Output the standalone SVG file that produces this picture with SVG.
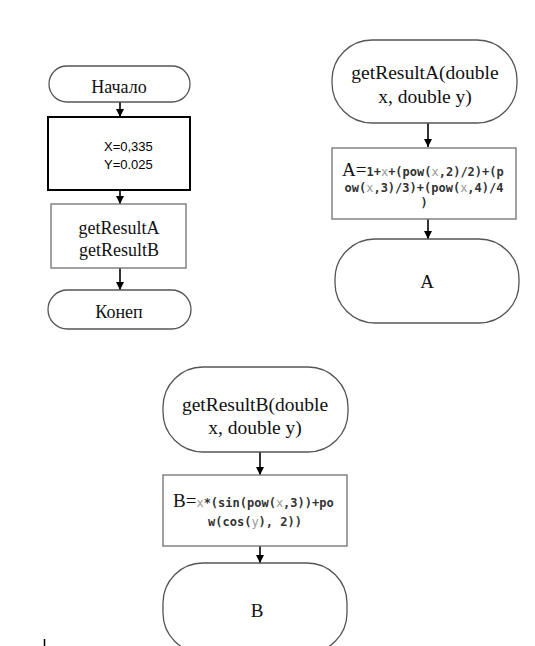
<svg xmlns="http://www.w3.org/2000/svg" width="535" height="646" viewBox="0 0 535 646">
<defs>
<style>
.term{fill:#fff;stroke:#555;stroke-width:1.3}
.box{fill:#fff;stroke:#7a7a7a;stroke-width:1.4}
.boxb{fill:#fff;stroke:#000;stroke-width:2}
.t{font-family:"Liberation Serif","Times New Roman",serif;fill:#111}
.s{font-family:"Liberation Sans",Arial,sans-serif;fill:#000;font-size:13px}
.m{font-family:"DejaVu Sans Mono","Liberation Mono",monospace;font-size:12px;fill:#333;font-weight:bold}
.v{fill:#999;font-weight:normal}
.c{fill:none;stroke:#000;stroke-width:1.6}
</style>
<marker id="ah" markerWidth="8" markerHeight="8" viewBox="0 0 8 8" refX="8" refY="4" orient="auto" markerUnits="userSpaceOnUse">
<path d="M0,0 L8,4 L0,8 z" fill="#000"/>
</marker>
</defs>
<rect width="535" height="646" fill="#fff"/>
<g id="connectors">
<line class="c" x1="120" y1="102" x2="120" y2="117" marker-end="url(#ah)"/>
<line class="c" x1="120" y1="190" x2="120" y2="204" marker-end="url(#ah)"/>
<line class="c" x1="120" y1="268" x2="120" y2="290" marker-end="url(#ah)"/>
<line class="c" x1="428" y1="123" x2="428" y2="147" marker-end="url(#ah)"/>
<line class="c" x1="428" y1="219" x2="428" y2="239" marker-end="url(#ah)"/>
<line class="c" x1="260" y1="452" x2="260" y2="475" marker-end="url(#ah)"/>
<line class="c" x1="260" y1="546" x2="260" y2="563" marker-end="url(#ah)"/>
</g>
<g id="start">
<rect class="term" x="49" y="66" width="141" height="36" rx="18" ry="18"/>
<text class="t" x="119" y="93" font-size="18" text-anchor="middle">Начало</text>
</g>
<g id="init">
<rect class="boxb" x="48" y="117" width="142" height="73"/>
<text class="s" x="104" y="151">X=0,335</text>
<text class="s" x="104" y="169">Y=0.025</text>
</g>
<g id="calls">
<rect class="box" x="51" y="204" width="135" height="64"/>
<text class="t" x="119" y="234" font-size="18" text-anchor="middle">getResultA</text>
<text class="t" x="119" y="256" font-size="18" text-anchor="middle">getResultB</text>
</g>
<g id="end">
<rect class="term" x="48" y="290" width="143" height="39" rx="19.5" ry="19.5"/>
<text class="t" x="119" y="318" font-size="18" text-anchor="middle">Конеп</text>
</g>
<g id="funcA">
<rect class="term" x="332" y="40" width="185" height="83" rx="40" ry="40"/>
<text class="t" x="425" y="79" font-size="19.5" text-anchor="middle">getResultA(double</text>
<text class="t" x="425" y="103" font-size="19.5" text-anchor="middle">x, double y)</text>
</g>
<g id="calcA">
<rect class="box" x="332" y="148" width="184" height="71"/>
<text x="342" y="176"><tspan class="t" font-size="19">A=</tspan><tspan class="m">1+<tspan class="v">x</tspan>+(pow(<tspan class="v">x</tspan>,2)/2)+(p</tspan></text>
<text class="m" x="424" y="192" text-anchor="middle">ow(<tspan class="v">x</tspan>,3)/3)+(pow(<tspan class="v">x</tspan>,4)/4</text>
<text class="m" x="424" y="207" text-anchor="middle">)</text>
</g>
<g id="retA">
<rect class="term" x="335" y="239" width="184" height="84" rx="40" ry="40"/>
<text class="t" x="427" y="288" font-size="19" text-anchor="middle">A</text>
</g>
<g id="funcB">
<rect class="term" x="163" y="367" width="185" height="85" rx="40" ry="40"/>
<text class="t" x="255" y="411" font-size="19.5" text-anchor="middle">getResultB(double</text>
<text class="t" x="255" y="434" font-size="19.5" text-anchor="middle">x, double y)</text>
</g>
<g id="calcB">
<rect class="box" x="163" y="475" width="184" height="71"/>
<text x="173" y="507"><tspan class="t" font-size="19">B=</tspan><tspan class="m"><tspan class="v">x</tspan>*(sin(pow(<tspan class="v">x</tspan>,3))+po</tspan></text>
<text class="m" x="255" y="526" text-anchor="middle">w(cos(<tspan class="v">y</tspan>), 2))</text>
</g>
<g id="retB">
<rect class="term" x="163" y="563" width="184" height="90" rx="40" ry="40"/>
<text class="t" x="257" y="617" font-size="19" text-anchor="middle">B</text>
</g>
<line x1="44.5" y1="639" x2="44.5" y2="646" stroke="#000" stroke-width="1.5"/>
</svg>
